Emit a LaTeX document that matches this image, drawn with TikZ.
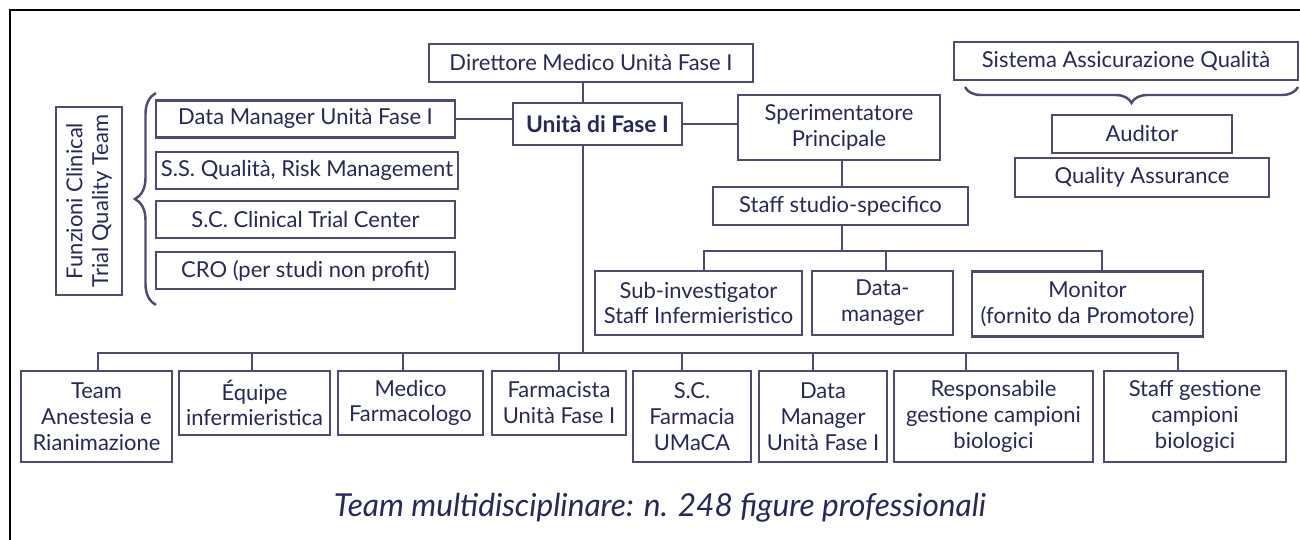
\documentclass[tikz,border=0pt]{standalone}
\usepackage{fontspec}
\setmainfont{Lato}
\usepackage{xcolor}
\usepackage{tikz}
\usetikzlibrary{calc,decorations.pathreplacing}
\definecolor{txtnavy}{RGB}{38,40,86}
\definecolor{boxline}{RGB}{76,76,112}
\newcommand{\boxfont}{\fontsize{12.5}{14.7}\selectfont}

\begin{document}
\begin{tikzpicture}[
  font=\boxfont,
  every node/.style={align=center, text=txtnavy},
  base/.style     = {draw=boxline, line width=1.6pt, inner sep=2pt},
  onerow/.style   = {base, minimum height=0.76cm},
  tworow/.style   = {base, minimum height=1.28cm},
  threerow/.style = {base, minimum height=1.82cm},
  sidebx/.style   = {base, minimum width=5.98cm, minimum height=0.74cm},
  link/.style     = {draw=boxline, line width=1.6pt},
  brc/.style      = {draw=boxline, line width=1.4pt, decorate}
]
\useasboundingbox (0,0) rectangle (26,10.8);

%% ===== frame =====
\draw[black, line width=0.7pt] (0.2,0) -- (0.2,10.6) -- (26,10.6);

%% ===== centre column =====
\node[onerow, minimum width=6.48cm] (dir) at (11.82, 9.54) {Direttore Medico Unità Fase I};
\node[base, minimum width=3.38cm, minimum height=0.84cm] (unita) at (11.95, 8.32)
  {\fontsize{13}{15}\selectfont\textbf{Unità di Fase I}};
\coordinate (trunk) at (11.66, 3.74);

\draw[link] (dir.south -| trunk) -- (unita.north -| trunk);
\draw[link] (unita.south -| trunk) -- (trunk);

%% ===== clinical trial quality team =====
\node[base, rotate=90, minimum width=3.76cm, minimum height=1.32cm] (funz) at (1.78, 6.78)
  {Funzioni Clinical \\ Trial Quality Team};
\node[sidebx] (dml) at (6.11, 8.42) {Data Manager Unità Fase I};
\node[sidebx, minimum width=6.04cm] (ssq) at (6.14, 7.39) {S.S. Qualità, Risk Management};
\node[sidebx] (sct) at (6.11, 6.41) {S.C. Clinical Trial Center};
\node[sidebx] (cro) at (6.11, 5.39) {CRO (per studi non profit)};

\draw[brc, decoration={brace, amplitude=0.42cm}] (3.12, 4.70) -- (3.12, 8.94);
\draw[link] (dml.east) -- (unita.west |- dml.east);

%% ===== study staff =====
\node[base, minimum width=4.04cm, minimum height=1.30cm] (spe) at (16.78, 8.25)
  {Sperimentatore \\ Principale};
\node[onerow, minimum width=5.10cm] (staff) at (16.81, 6.68) {Staff studio-specifico};
\node[tworow, minimum width=4.14cm] (sub) at (13.97, 4.74)
  {Sub-investigator \\ Staff Infermieristico};
\node[tworow, minimum width=2.82cm] (dmg) at (17.65, 4.74) {Data- \\ manager};
\node[tworow, minimum width=4.62cm, minimum height=1.30cm] (mon) at (21.75, 4.72)
  {Monitor \\ (fornito da Promotore)};
\coordinate (sbus) at (16.84, 5.78);

\draw[link] (unita.east) -- (spe.west |- unita.east);
\draw[link] (spe.south -| sbus) -- (staff.north -| sbus);
\draw[link] (staff.south -| sbus) -- (sbus);
\foreach \n/\dx in {sub/0.11, dmg/0.07, mon/0.29}
  \draw[link] ([xshift=\dx cm]\n.north) |- (sbus);

%% ===== quality assurance =====
\node[onerow, minimum width=6.88cm] (sqa) at (22.52, 9.58) {Sistema Assicurazione Qualità};
\node[onerow, minimum width=3.60cm] (aud) at (22.84, 8.12) {Auditor};
\node[onerow, minimum width=5.08cm, minimum height=0.78cm] (qa) at (22.84, 7.25) {Quality Assurance};

\draw[brc, decoration={brace, amplitude=0.32cm}] (25.96, 9.06) -- (19.30, 9.06);

%% ===== multidisciplinary team =====
\node[threerow, minimum width=3.02cm] (team) at (1.93, 2.47) {Team \\ Anestesia e \\ Rianimazione};
\node[tworow, minimum width=3.02cm] (equipe) at (5.09, 2.74) {Équipe \\ infermieristica};
\node[tworow, minimum width=2.90cm] (medico) at (8.21, 2.74) {Medico \\ Farmacologo};
\node[tworow, minimum width=2.68cm] (farm) at (11.18, 2.74) {Farmacista \\ Unità Fase I};
\node[threerow, minimum width=2.36cm] (scf) at (13.84, 2.47) {S.C. \\ Farmacia \\ UMaCA};
\node[threerow, minimum width=2.56cm] (dmb) at (16.46, 2.47) {Data \\ Manager \\ Unità Fase I};
\node[threerow, minimum width=3.98cm] (resp) at (19.87, 2.47)
  {Responsabile \\ gestione campioni \\ biologici};
\node[threerow, minimum width=3.64cm] (sgc) at (23.90, 2.47)
  {Staff gestione \\ campioni \\ biologici};

\foreach \n/\dx in {team/0.03, equipe/-0.05, medico/-0.15, farm/0, scf/-0.20,
                    dmb/-0.20, resp/-0.55, sgc/-0.34}
  \draw[link] ([xshift=\dx cm]\n.north) |- (trunk);

\node[anchor=base, font=\fontsize{18}{20}\selectfont\itshape] (capt) at (13.2, 0.46)
  {Team multidisciplinare: n. 248 figure professionali};

\end{tikzpicture}
\end{document}
